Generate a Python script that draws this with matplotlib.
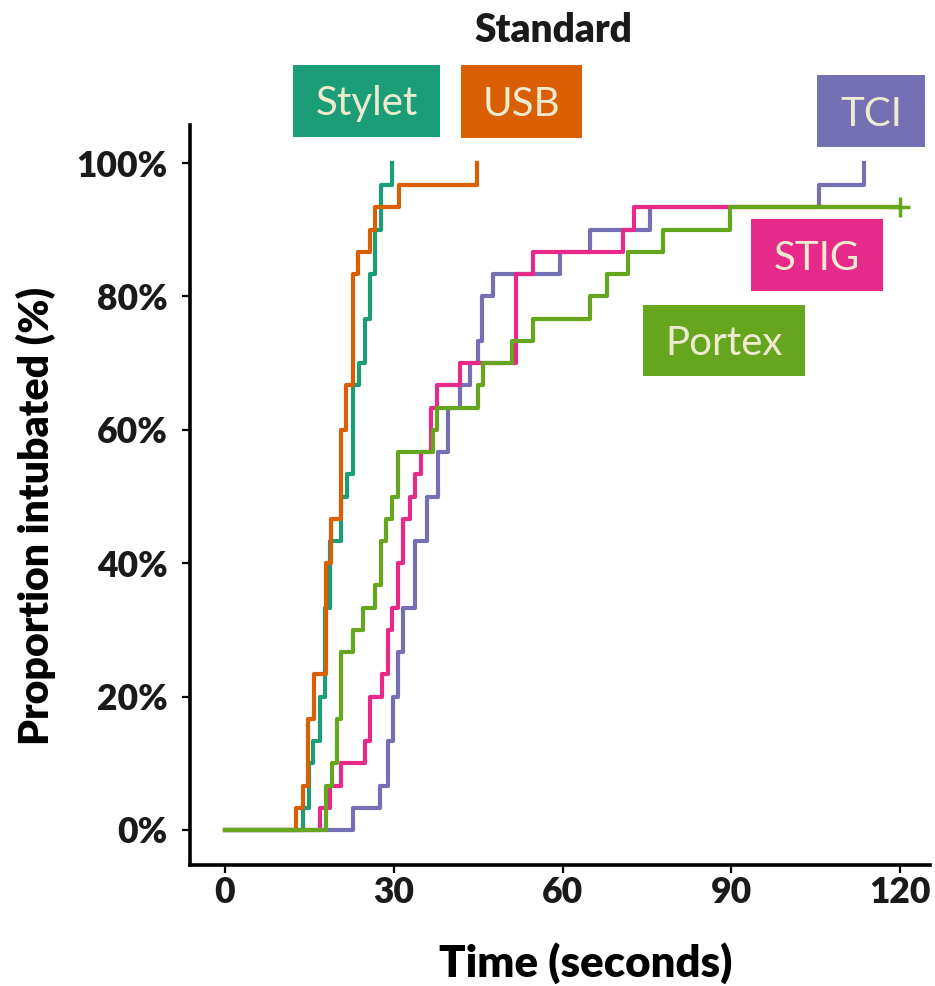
import matplotlib
matplotlib.use("Agg")
import matplotlib.pyplot as plt
from matplotlib.patches import Rectangle

plt.rcParams['font.family'] = ['Lato', 'DejaVu Sans']

N_TOTAL = 30

# Event times (seconds) and cumulative number intubated (of 30)
stylet_t = [13.9, 14.9, 15.7, 16.9, 17.8, 18.7, 20.7, 21.6, 22.8, 23.8, 24.9, 25.8, 26.7, 27.7, 29.6]
stylet_n = [1, 3, 4, 6, 10, 13, 15, 16, 20, 21, 23, 25, 27, 29, 30]

usb_t = [12.7, 13.9, 14.8, 15.9, 17.9, 18.8, 20.7, 21.5, 22.7, 23.7, 25.8, 26.7, 31.0, 44.7]
usb_n = [1, 2, 5, 7, 12, 14, 18, 20, 25, 26, 27, 28, 29, 30]

tci_t = [22.8, 27.6, 28.9, 29.8, 30.8, 31.7, 33.8, 35.9, 37.8, 39.7, 41.8, 43.6, 44.9, 45.6,
         47.7, 59.6, 64.8, 75.6, 105.5, 113.6]
tci_n = [1, 2, 4, 6, 8, 10, 13, 15, 17, 19, 20, 21, 22, 24, 25, 26, 27, 28, 29, 30]

stig_t = [16.9, 18.7, 20.7, 24.9, 25.8, 27.9, 28.9, 29.6, 30.8, 31.7, 32.8, 33.8, 34.8, 36.7,
          37.7, 41.8, 51.7, 54.7, 70.8, 72.7, 120.0]
stig_n = [1, 2, 3, 4, 6, 7, 9, 10, 12, 14, 15, 16, 17, 19, 20, 21, 25, 26, 27, 28, 28]

portex_t = [18.0, 19.0, 19.9, 20.7, 22.7, 24.6, 26.7, 27.7, 28.7, 29.6, 30.8, 36.9, 37.7, 45.0,
            45.9, 51.0, 54.8, 64.9, 67.9, 71.7, 77.8, 89.7, 120.0]
portex_n = [2, 3, 5, 8, 9, 10, 11, 13, 14, 15, 17, 18, 19, 20, 21, 22, 23, 24, 25, 26, 27, 28, 28]
portex_censor_t = [120.0]
portex_censor_n = [28]

x_ticks = [0, 30, 60, 90, 120]
y_ticks = [0, 0.2, 0.4, 0.6, 0.8, 1.0]
y_tick_labels = ["0%", "20%", "40%", "60%", "80%", "100%"]

colors = {
    "Stylet": "#1B9E77",
    "USB": "#D95F02",
    "TCI": "#7570B3",
    "STIG": "#E7298A",
    "Portex": "#66A61E",
}

W, H = 935, 986
fig = plt.figure(figsize=(W / 100, H / 100), dpi=100)
ax = fig.add_axes([190 / W, 1 - 865 / H, (930 - 190) / W, (865 - 125) / H])

def draw(ts, ns, color):
    xs = [0.0] + list(ts)
    ys = [0.0] + [n / N_TOTAL for n in ns]
    ax.step(xs, ys, where='post', color=color, lw=3.0)

draw(stylet_t, stylet_n, colors["Stylet"])
draw(usb_t, usb_n, colors["USB"])
draw(tci_t, tci_n, colors["TCI"])
draw(stig_t, stig_n, colors["STIG"])
draw(portex_t, portex_n, colors["Portex"])
ax.plot(portex_censor_t, [n / N_TOTAL for n in portex_censor_n], marker='+', ms=15, mew=2.5,
        color=colors["Portex"], ls='none', clip_on=False)

ax.set_xlim(-6.22, 125.3)
ax.set_ylim(-0.0525, 1.057)
ax.set_xticks(x_ticks)
ax.set_xticklabels([str(v) for v in x_ticks])
ax.set_yticks(y_ticks)
ax.set_yticklabels(y_tick_labels)
for s in ['top', 'right']:
    ax.spines[s].set_visible(False)
for s in ['left', 'bottom']:
    ax.spines[s].set_linewidth(2.6)
    ax.spines[s].set_color('black')
ax.tick_params(axis='both', length=6, width=1.6, color='black', labelsize=25.5)
ax.tick_params(axis='y', pad=10)
ax.tick_params(axis='x', pad=2)
for lab in ax.get_xticklabels() + ax.get_yticklabels():
    lab.set_fontweight('heavy')
    lab.set_color('#1a1a1a')

fig.text(36 / W, 1 - 516 / H, "Proportion intubated (%)", rotation=90, ha='center', va='center',
         fontsize=29.5, fontweight='heavy', color='black')
fig.text(586 / W, 1 - 963 / H, "Time (seconds)", ha='center', va='center',
         fontsize=31.5, fontweight='heavy', color='black')
fig.text(553 / W, 1 - 31 / H, "Standard", ha='center', va='center',
         fontsize=28, fontweight='heavy', color='#1a1a1a')

boxes = [
    ("Stylet", 293, 65, 440, 137),
    ("USB", 461, 65, 582, 138),
    ("TCI", 817, 75, 925, 147),
    ("STIG", 751, 219, 883, 291),
    ("Portex", 643, 305, 805, 376),
]
cap_px = 29
for name, x0, y0, x1, y1 in boxes:
    fig.add_artist(Rectangle((x0 / W, 1 - y1 / H), (x1 - x0) / W, (y1 - y0) / H,
                             transform=fig.transFigure, facecolor=colors[name],
                             edgecolor='none'))
    cy = (y0 + y1) / 2 + cap_px / 2
    fig.text((x0 + x1) / 2 / W, 1 - cy / H, name, ha='center', va='baseline',
             fontsize=29, fontweight='normal', color='#EEEAD0')

fig.savefig("out.png", dpi=100)
